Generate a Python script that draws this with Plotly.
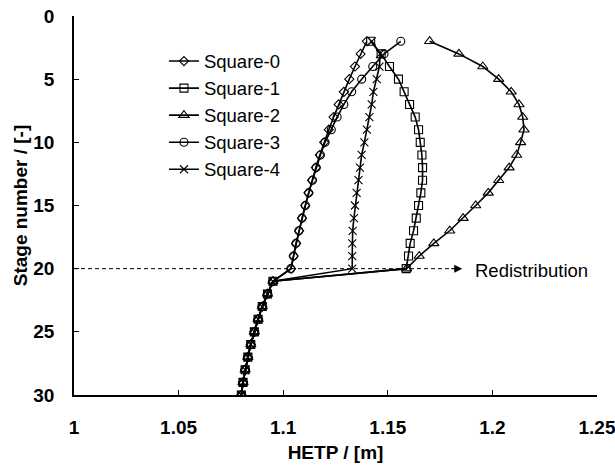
import plotly.graph_objects as go

stages = list(range(2, 31))

# Lower section (stages 21-30) - all cases coincide
lower = [1.0951, 1.0925, 1.0900, 1.0880, 1.0862, 1.0845, 1.0831, 1.0818, 1.0808, 1.0800]

# Upper section (stages 2-20)
sq0_upper = [1.1400, 1.1370, 1.1343, 1.1316, 1.1290, 1.1265, 1.1241, 1.1218, 1.1196, 1.1175,
             1.1156, 1.1138, 1.1121, 1.1105, 1.1090, 1.1076, 1.1062, 1.1050, 1.1038]
sq1_upper = [1.1418, 1.1468, 1.1508, 1.1551, 1.1578, 1.1604, 1.1631, 1.1647, 1.1655, 1.1663,
             1.1666, 1.1666, 1.1658, 1.1647, 1.1636, 1.1623, 1.1607, 1.1599, 1.1588]
sq2_upper = [1.1700, 1.1840, 1.1954, 1.2030, 1.2090, 1.2127, 1.2145, 1.2151, 1.2135, 1.2116,
             1.2080, 1.2030, 1.1980, 1.1920, 1.1860, 1.1796, 1.1720, 1.1650, 1.1590]
sq3_upper = [1.1562, 1.1482, 1.1428, 1.1375, 1.1327, 1.1290, 1.1258, 1.1230, 1.1200, 1.1178,
             1.1158, 1.1140, 1.1122, 1.1106, 1.1090, 1.1075, 1.1061, 1.1049, 1.1036]
sq4_upper = [1.1423, 1.1463, 1.1460, 1.1447, 1.1431, 1.1423, 1.1412, 1.1400, 1.1388, 1.1375,
             1.1367, 1.1360, 1.1351, 1.1343, 1.1338, 1.1332, 1.1330, 1.1330, 1.1330]

names = ["Square-0", "Square-1", "Square-2", "Square-3", "Square-4"]
uppers = [sq0_upper, sq1_upper, sq2_upper, sq3_upper, sq4_upper]
symbols = ["diamond-open", "square-open", "triangle-up-open", "circle-open", "x-thin-open"]
sizes = [7, 8, 9, 8, 8]

redistribution_stage = 20
arrow_tip_x = 1.1856
label_x = 1.1905

FONT = "Liberation Sans, Arial, Helvetica, sans-serif"

fig = go.Figure()
for name, up, sym, sz in zip(names, uppers, symbols, sizes):
    fig.add_trace(go.Scatter(
        x=up + lower, y=stages, name=name, mode="lines+markers",
        line=dict(color="black", width=1.6),
        marker=dict(symbol=sym, size=sz, color="black", line=dict(color="black", width=1.1)),
    ))

# dashed redistribution line
fig.add_shape(type="line", xref="x", yref="y", x0=1.0, x1=arrow_tip_x - 0.004,
              y0=redistribution_stage, y1=redistribution_stage,
              line=dict(color="black", width=1, dash="4px,3px"))
fig.add_annotation(x=arrow_tip_x, y=redistribution_stage, ax=arrow_tip_x - 0.006, ay=redistribution_stage,
                   xref="x", yref="y", axref="x", ayref="y", text="", showarrow=True,
                   arrowhead=2, arrowsize=1.6, arrowwidth=1, arrowcolor="black")
fig.add_annotation(x=label_x, y=redistribution_stage, xref="x", yref="y", text="Redistribution",
                   showarrow=False, xanchor="left", yanchor="middle", yshift=-2,
                   font=dict(family=FONT, size=18.5, color="black"))

fig.update_layout(
    width=615, height=465,
    margin=dict(l=74, r=18, t=16, b=70),
    paper_bgcolor="white", plot_bgcolor="white",
    font=dict(family=FONT, size=18.5, color="black"),
    legend=dict(x=0.172, y=0.93, xanchor="left", yanchor="top",
                bgcolor="rgba(0,0,0,0)", font=dict(size=18.5), itemwidth=30,
                tracegroupgap=0),
    showlegend=True,
)
fig.update_xaxes(
    range=[1.0, 1.25], tick0=1.0, dtick=0.05, showgrid=False, zeroline=False,
    showline=True, linecolor="black", linewidth=1.5, automargin=False,
    ticks="inside", ticklen=5, tickwidth=1, tickcolor="black", ticklabeloverflow="allow",
    tickfont=dict(family=FONT, size=19, weight="bold"), ticklabelstandoff=14,
    title=dict(text="<b>HETP / [m]</b>", font=dict(family=FONT, size=19), standoff=9),
)
fig.update_yaxes(
    range=[30, 0], tick0=0, dtick=5, showgrid=False, zeroline=False,
    showline=True, linecolor="black", linewidth=1.5, automargin=False,
    ticks="inside", ticklen=5, tickwidth=1, tickcolor="black", ticklabeloverflow="allow",
    tickfont=dict(family=FONT, size=19, weight="bold"), ticklabelstandoff=14,
    title=dict(text="<b>Stage number / [-]</b>", font=dict(family=FONT, size=19), standoff=1),
)

fig.write_html("out.html")
